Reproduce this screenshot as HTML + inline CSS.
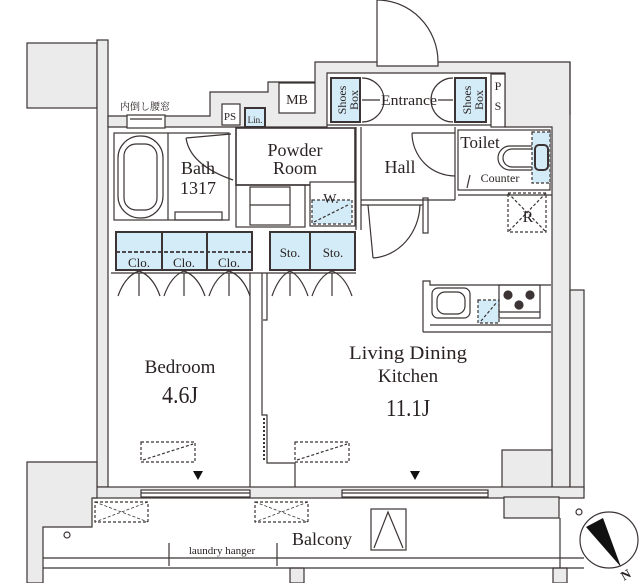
<!DOCTYPE html>
<html><head><meta charset="utf-8"><style>
html,body{margin:0;padding:0;background:#fff}
svg{display:block}
text{font-family:"Liberation Serif","Noto Serif CJK SC",serif;fill:#2a2222}
</style></head><body>
<svg width="640" height="583" viewBox="0 0 640 583" xmlns="http://www.w3.org/2000/svg">
<g fill="#ebebeb" stroke="#3c3434" stroke-width="1.2">
<rect x="27" y="43" width="70" height="65"/>
<rect x="97" y="40" width="11" height="447"/>
<polygon points="108,116 210,116 210,92 268,92 268,82 315,82 315,62 377,62 377,66 438,66 438,62 570,62 570,490 552,490 552,127 505,127 505,73 327,73 327,127 108,127"/>
<rect x="570" y="290" width="14" height="200"/>
<rect x="502" y="450" width="50" height="40"/>
<rect x="92" y="487" width="492" height="11"/>
<rect x="504" y="497" width="55" height="21"/>
<polygon points="27,462 97,462 97,498 92,498 92,527 43,527 43,583 27,583"/>
<rect x="290" y="568" width="14" height="15"/>
<rect x="553" y="568" width="14" height="15"/>
</g>
<g fill="none" stroke="#3c3434" stroke-width="1.2">
<line x1="570" y1="62" x2="570" y2="115"/>
<rect x="279" y="83" width="36" height="30" fill="#fff"/>
<rect x="222" y="104" width="18" height="21" fill="#fff"/>
<rect x="245" y="108" width="20" height="19" fill="#d4ecf7" stroke-width="2"/>
<rect x="127" y="115" width="38" height="13" fill="#fff"/>
<line x1="130" y1="119" x2="162" y2="119"/>
<rect x="114" y="133" width="115" height="87"/>
<line x1="168" y1="133" x2="168" y2="220"/>
<rect x="118" y="136" width="45" height="82" rx="22"/>
<rect x="124" y="144" width="33" height="66" rx="12"/>
<rect x="175" y="212" width="47" height="8"/>
<path d="M186,138 L231,134 M186,138 Q190,165 233,180"/>
<rect x="236" y="128" width="119" height="57" stroke-width="1.6"/>
<rect x="236" y="185" width="69" height="42"/>
<rect x="250" y="187" width="40" height="38"/>
<line x1="250" y1="205" x2="290" y2="205"/>
<rect x="310" y="182" width="45" height="44" fill="#fff"/>
<rect x="312" y="200" width="40" height="24" fill="#d4ecf7" stroke-dasharray="3,2"/>
<line x1="314" y1="222" x2="350" y2="204" stroke-dasharray="3,2"/>
<line x1="377" y1="0" x2="377" y2="62"/>
<path d="M377,0 A61,62 0 0 1 438,62"/>
<line x1="327" y1="125" x2="505" y2="125"/>
<rect x="331" y="78" width="29" height="44" fill="#d4ecf7" stroke-width="2"/>
<rect x="455" y="78" width="31" height="44" fill="#d4ecf7" stroke-width="2"/>
<rect x="491" y="74" width="14" height="53" fill="#fff"/>
<path d="M362,78 A20,20 0 0 1 362,122 M362,100 L380,100"/>
<path d="M453,78 A20,20 0 0 0 453,122 M453,100 L438,100"/>
<line x1="356" y1="127" x2="356" y2="230"/>
<line x1="361" y1="127" x2="361" y2="230"/>
<line x1="361" y1="200" x2="455" y2="200"/>
<line x1="361" y1="205" x2="423" y2="205"/>
<line x1="455" y1="127" x2="455" y2="200"/>
<line x1="412" y1="133" x2="455" y2="133"/>
<path d="M412,133 A43,43 0 0 0 455,176"/>
<line x1="368" y1="205" x2="373" y2="258"/>
<path d="M373,258 A50,55 0 0 0 420,205"/>
<rect x="423" y="198" width="5" height="35"/>
<rect x="458" y="130" width="92" height="60"/>
<line x1="458" y1="195" x2="552" y2="195"/>
<rect x="532" y="132" width="18" height="51" fill="#d4ecf7" stroke-dasharray="3,2"/>
<path d="M532,146 L510,146 A12,12 0 0 0 510,170 L532,170"/>
<path d="M532,149 L512,149 A9,9 0 0 0 512,167 L532,167"/>
<rect x="535" y="145" width="13" height="25" rx="4" stroke-width="2"/>
<path d="M470,175 L467,188"/>
<rect x="508" y="193" width="38" height="39" stroke-dasharray="3,2"/>
<path d="M508,193 L546,232 M546,193 L508,232" stroke-dasharray="3,2"/>
<rect x="116" y="232" width="46" height="38" fill="#d4ecf7" stroke-width="2"/>
<rect x="162" y="232" width="45" height="38" fill="#d4ecf7" stroke-width="2"/>
<rect x="207" y="232" width="45" height="38" fill="#d4ecf7" stroke-width="2"/>
<line x1="116" y1="252" x2="252" y2="252" stroke-dasharray="4,2" stroke-width="1.8"/>
<rect x="270" y="232" width="40" height="38" fill="#d4ecf7" stroke-width="2"/>
<rect x="310" y="232" width="45" height="38" fill="#d4ecf7" stroke-width="2"/>
<line x1="111" y1="273" x2="268" y2="273"/>
<line x1="268" y1="273" x2="356" y2="273"/>
<g>
<path d="M118,296 Q125,276 139,271 Q153,276 160,296"/>
<path d="M164,296 Q171,276 184,271 Q198,276 205,296"/>
<path d="M209,296 Q216,276 229,271 Q243,276 250,296"/>
<path d="M272,296 Q279,276 290,271 Q301,276 308,296"/>
<path d="M312,296 Q319,276 332,271 Q345,276 352,296"/>
<line x1="139" y1="273" x2="139" y2="296"/><line x1="184" y1="273" x2="184" y2="296"/>
<line x1="229" y1="273" x2="229" y2="296"/><line x1="290" y1="273" x2="290" y2="296"/>
<line x1="332" y1="273" x2="332" y2="296"/>
</g>
<polyline points="250,487 250,273"/>
<polyline points="262,273 262,415 267,415 267,463 295,463 295,487"/>
<polyline points="267,273 267,320 263,320"/>
<line x1="264" y1="418" x2="264" y2="460" stroke-dasharray="2,2" stroke-width="2"/>
<polyline points="423,332 423,281 430,281 430,285 551,285"/>
<line x1="423" y1="332" x2="551" y2="332"/>
<line x1="430" y1="325" x2="551" y2="325"/>
<rect x="432" y="288" width="38" height="30" rx="6"/>
<rect x="437" y="292" width="28" height="22" rx="8"/>
<rect x="478" y="300" width="21" height="23" fill="#d4ecf7" stroke-dasharray="3,2"/>
<line x1="481" y1="321" x2="497" y2="302" stroke-dasharray="3,2"/>
<rect x="499" y="285" width="41" height="33"/>
<line x1="499" y1="312" x2="540" y2="312"/>
<g fill="#3c3434"><circle cx="508" cy="295" r="4"/><circle cx="530" cy="295" r="4"/><circle cx="519" cy="305" r="4"/></g>
<rect x="141" y="442" width="54" height="20" stroke-dasharray="3,2"/>
<line x1="143" y1="460" x2="193" y2="444" stroke-dasharray="3,2"/>
<rect x="295" y="442" width="54" height="20" stroke-dasharray="3,2"/>
<line x1="297" y1="460" x2="347" y2="444" stroke-dasharray="3,2"/>
<rect x="141" y="490" width="109" height="7" fill="#fff"/>
<line x1="141" y1="493" x2="250" y2="493"/>
<rect x="342" y="490" width="146" height="7" fill="#fff"/>
<line x1="342" y1="493" x2="488" y2="493"/>
<line x1="43" y1="558" x2="584" y2="558"/>
<line x1="43" y1="568" x2="584" y2="568"/>
<rect x="95" y="502" width="53" height="20" stroke-dasharray="3,2"/>
<path d="M95,502 L148,522 M148,502 L95,522" stroke-dasharray="3,2" stroke-width="0.8"/>
<rect x="255" y="502" width="53" height="20" stroke-dasharray="3,2"/>
<path d="M255,502 L308,522 M308,502 L255,522" stroke-dasharray="3,2" stroke-width="0.8"/>
<rect x="371" y="509" width="35" height="41"/>
<path d="M374,548 L388,512 L403,548"/>
<line x1="169" y1="543" x2="169" y2="566"/>
<line x1="277" y1="543" x2="277" y2="566"/>
<circle cx="67" cy="535" r="3"/>
<circle cx="579" cy="512" r="3"/>
<line x1="560" y1="518" x2="560" y2="568"/>
<ellipse cx="609" cy="540" rx="29" ry="28"/>
</g>
<polygon points="586,527 603,518 621,567" fill="#111"/>
<polygon points="193,471 203,471 198,480" fill="#111"/>
<polygon points="410,471 420,471 415,480" fill="#111"/>
<g text-anchor="middle">
<text x="145" y="110" font-size="10" font-family="Noto Sans CJK JP,sans-serif">内倒し腰窓</text>
<text x="230" y="120" font-size="11">PS</text>
<text x="255" y="123" font-size="9">Lin.</text>
<text x="297" y="104" font-size="14">MB</text>
<text x="198" y="174" font-size="18">Bath</text>
<text x="198" y="194" font-size="18">1317</text>
<text x="295" y="156" font-size="18">Powder</text>
<text x="295" y="174" font-size="18">Room</text>
<text x="331" y="203" font-size="14">W.</text>
<text x="409" y="105" font-size="15" textLength="56" lengthAdjust="spacingAndGlyphs">Entrance</text>
<text x="400" y="173" font-size="18">Hall</text>
<text x="480" y="148" font-size="17">Toilet</text>
<text x="500" y="182" font-size="12">Counter</text>
<text x="528" y="222" font-size="16">R</text>
<text x="498" y="90" font-size="12">P</text>
<text x="498" y="110" font-size="12">S</text>
<text x="139" y="267" font-size="13">Clo.</text>
<text x="184" y="267" font-size="13">Clo.</text>
<text x="229" y="267" font-size="13">Clo.</text>
<text x="290" y="257" font-size="13">Sto.</text>
<text x="333" y="257" font-size="13">Sto.</text>
<text x="180" y="373" font-size="19">Bedroom</text>
<text x="180" y="403" font-size="24" textLength="36" lengthAdjust="spacingAndGlyphs">4.6J</text>
<text x="408" y="359" font-size="19" textLength="118" lengthAdjust="spacingAndGlyphs">Living Dining</text>
<text x="408" y="382" font-size="19">Kitchen</text>
<text x="408" y="416" font-size="24" textLength="44" lengthAdjust="spacingAndGlyphs">11.1J</text>
<text x="322" y="545" font-size="18">Balcony</text>
<text x="222" y="554" font-size="11">laundry hanger</text>
<text x="626" y="579" font-size="13" font-family="Liberation Sans,sans-serif" font-weight="bold" transform="rotate(-30 626 575)">N</text>
</g>
<g font-size="12" text-anchor="middle">
<text transform="translate(349,100) rotate(-90)" y="-3">Shoes</text>
<text transform="translate(349,100) rotate(-90)" y="9">Box</text>
<text transform="translate(474,100) rotate(-90)" y="-3">Shoes</text>
<text transform="translate(474,100) rotate(-90)" y="9">Box</text>
</g>
</svg>
</body></html>
